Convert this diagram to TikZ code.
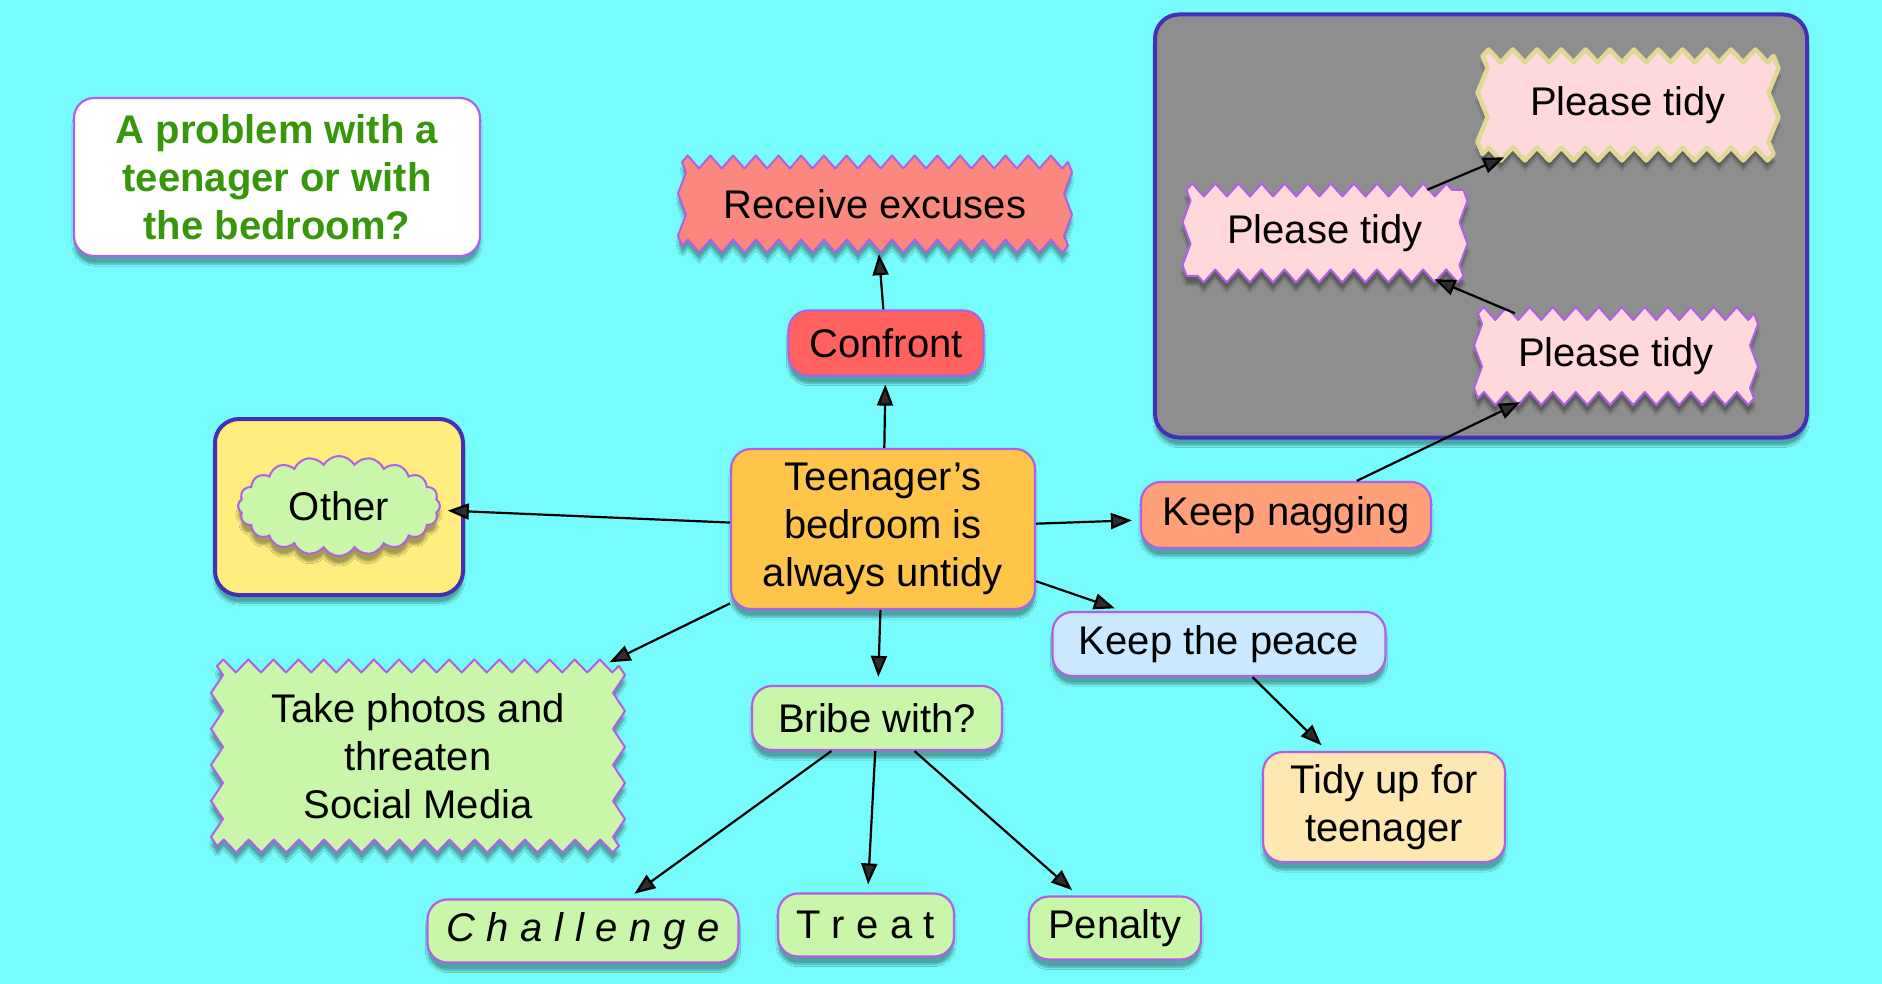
\documentclass[tikz,border=0pt]{standalone}
\usepackage{fontspec}
\setmainfont{Liberation Sans}
\newfontfamily\spacedfont[LetterSpace=29]{Liberation Sans}
\usetikzlibrary{arrows.meta,shapes.symbols,decorations.pathmorphing,calc,shadows.blur}
\definecolor{cbg}{RGB}{118,252,252}
\definecolor{nborder}{RGB}{176,96,230}
\definecolor{cborder}{RGB}{68,48,180}
\definecolor{ctitle}{RGB}{56,150,10}
\definecolor{crecv}{RGB}{250,136,126}
\definecolor{cconf}{RGB}{255,98,94}
\definecolor{ccent}{RGB}{255,196,74}
\definecolor{cyel}{RGB}{255,238,125}
\definecolor{cgreen}{RGB}{202,246,170}
\definecolor{cnag}{RGB}{255,160,122}
\definecolor{cpeace}{RGB}{202,232,255}
\definecolor{ctidy}{RGB}{252,232,176}
\definecolor{cgray}{RGB}{142,142,142}
\definecolor{cpink}{RGB}{255,216,220}
\definecolor{ckhaki}{RGB}{226,216,150}
% zigzag outline around a centre coordinate:
% #1 centre, #2 width, #3 height, #4 fill, #5 border, #6 line width, #7 top seg, #8 side seg, #9 side amp
\newcommand{\zzoutline}[9]{%
\path[fill=#4, draw=#5, line width=#6, line join=round,
  blur shadow={shadow xshift=0pt, shadow yshift=-8pt, shadow opacity=35, shadow blur steps=6}]
  ($(#1)+(-#2/2,-#3/2)$)
  decorate[decoration={zigzag,segment length=#7,amplitude=6.5pt}]{-- ($(#1)+(#2/2,-#3/2)$)}
  decorate[decoration={zigzag,segment length=#8,amplitude=#9}]{-- ($(#1)+(#2/2,#3/2)$)}
  decorate[decoration={zigzag,segment length=#7,amplitude=6.5pt}]{-- ($(#1)+(-#2/2,#3/2)$)}
  decorate[decoration={zigzag,segment length=#8,amplitude=#9}]{-- ($(#1)+(-#2/2,-#3/2)$)} -- cycle;}
\begin{document}
\begin{tikzpicture}[x=1pt,y=-1pt,
  font=\fontsize{40}{48}\selectfont,
  shd/.style={blur shadow={shadow xshift=0pt, shadow yshift=-8pt, shadow opacity=35, shadow blur steps=6}},
  nd/.style={draw=nborder, line width=2.2pt, rounded corners=20pt, align=center, inner sep=0pt, shd},
  cont/.style={draw=cborder, line width=4pt, rounded corners=24pt, inner sep=0pt, shd},
  plain/.style={align=center, inner sep=0pt},
  conn/.style={-{Triangle[length=21pt,width=16pt]}, line width=2.2pt, shorten >=8pt},
]
\fill[cbg] (0,0) rectangle (1882,984);
\useasboundingbox (0,0) rectangle (1882,984);

% containers
\node[cont, fill=cgray, minimum width=652pt, minimum height=423pt] (grp) at (1481,226) {};
\node[cont, fill=cyel, minimum width=248pt, minimum height=176pt] (otherbox) at (339,507) {};

% zigzag shapes (drawn first, text nodes placed on top)
\coordinate (recvc) at (875,204);
\zzoutline{recvc}{386}{84}{crecv}{nborder}{2pt}{22.7pt}{42pt}{4pt}
\coordinate (photosc) at (418,756);
\zzoutline{photosc}{402}{180}{cgreen}{nborder}{2pt}{25.1pt}{36pt}{6pt}
\coordinate (pt1c) at (1628,105);
\zzoutline{pt1c}{291}{98}{cpink}{ckhaki}{4.5pt}{24.25pt}{49pt}{5pt}
\coordinate (pt2c) at (1325,233);
\zzoutline{pt2c}{277}{86}{cpink}{nborder}{2pt}{23.1pt}{43pt}{4pt}
\coordinate (pt3c) at (1616,356);
\zzoutline{pt3c}{276}{85}{cpink}{nborder}{2pt}{23pt}{42.5pt}{4pt}

% nodes
\node[nd, fill=white, text=ctitle, font=\fontsize{40}{48}\selectfont\bfseries,
      minimum width=406pt, minimum height=158pt] (title) at (277,177)
      {A problem with a\\teenager or with\\the bedroom?};
\node[plain, minimum width=386pt, minimum height=84pt] (recv) at (recvc) {Receive excuses};
\node[nd, fill=cconf, minimum width=195pt, minimum height=65pt] (confront) at (886,343) {Confront};
\node[nd, fill=ccent, minimum width=304pt, minimum height=160pt] (center) at (883,529)
      {Teenager’s\\bedroom is\\always untidy};
\node[cloud, cloud puffs=20, cloud puff arc=120, aspect=2, draw=nborder, fill=cgreen,
      line width=2pt, inner sep=0pt, minimum width=202pt, minimum height=100pt, shd] (other) at (339,506) {Other};
\node[nd, fill=cnag, minimum width=290pt, minimum height=66pt] (nag) at (1286,515) {Keep nagging};
\node[nd, fill=cpeace, minimum width=333pt, minimum height=64pt] (peace) at (1219,644) {Keep the peace};
\node[nd, fill=ctidy, minimum width=242pt, minimum height=110pt] (tidyup) at (1384,807) {Tidy up for\\teenager};
\node[nd, fill=cgreen, minimum width=250pt, minimum height=64pt] (bribe) at (877,718) {Bribe with?};
\node[plain, minimum width=402pt, minimum height=180pt] (photos) at (photosc)
      {Take photos and\\threaten\\Social Media};
\node[nd, fill=cgreen, minimum width=311pt, minimum height=63pt] (chal) at (583,931) {\spacedfont\itshape Challenge};
\node[nd, fill=cgreen, minimum width=176pt, minimum height=63pt] (treat) at (866,925) {\spacedfont Treat};
\node[nd, fill=cgreen, minimum width=172pt, minimum height=63pt] (penalty) at (1115,928) {Penalty};
\node[plain, minimum width=291pt, minimum height=98pt] (pt1) at (pt1c) {Please tidy};
\node[plain, minimum width=277pt, minimum height=86pt] (pt2) at (pt2c) {Please tidy};
\node[plain, minimum width=276pt, minimum height=85pt] (pt3) at (pt3c) {Please tidy};

% connectors
\draw[conn] (center) -- (confront);
\draw[conn] (confront) -- (recv);
\draw[conn] (center) -- (other);
\draw[conn] (center) -- (nag);
\draw[conn] (center) -- (peace);
\draw[conn] (center) -- (bribe);
\draw[conn] (center) -- (photos);
\draw[conn] (bribe) -- (chal);
\draw[conn] (bribe) -- (treat);
\draw[conn] (bribe) -- (penalty);
\draw[conn] (peace) -- (tidyup);
\draw[conn] (nag) -- (pt3);
\draw[conn] (pt3) -- (pt2);
\draw[conn] (pt2) -- (pt1);
\end{tikzpicture}
\end{document}
